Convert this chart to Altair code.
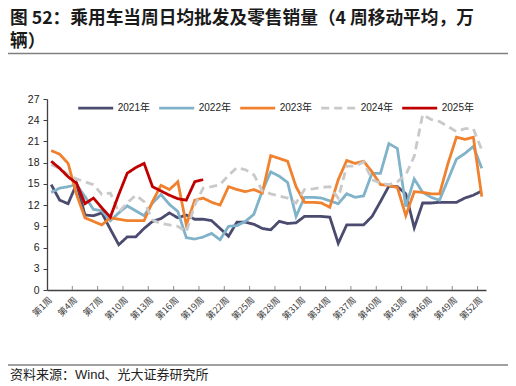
import altair as alt
import pandas as pd

series_names = ["2021年", "2022年", "2023年", "2024年", "2025年"]
series_colors = ["#4b4b70", "#80b2c9", "#f0822f", "#c9c9c9", "#c00000"]
series_dash = [[1, 0], [1, 0], [1, 0], [8, 5], [1, 0]]
series_width = [2.8, 2.8, 2.8, 2.8, 5.0]

y2021 = [14.9, 12.7, 12.2, 15.0, 10.6, 10.5, 10.9, 8.6, 6.4, 7.5, 7.5, 8.7, 9.7,
         10.1, 10.9, 10.2, 10.6, 10.0, 10.0, 9.8, 8.7, 7.6, 9.6, 9.6, 9.3, 8.7,
         8.5, 9.7, 9.4, 9.5, 10.4, 10.4, 10.4, 10.3, 6.6, 9.2, 9.2, 9.2, 10.4,
         12.5, 14.7, 14.6, 13.6, 8.8, 12.3, 12.3, 12.4, 12.4, 12.4, 13.0, 13.4, 14.0]
y2022 = [13.8, 14.4, 14.6, 14.9, 13.2, 11.4, 11.2, 9.8, 10.9, 11.9, 11.2, 10.5, 12.3,
         13.5, 12.1, 11.1, 7.4, 7.2, 7.5, 8.0, 7.1, 9.0, 9.1, 9.7, 10.7, 14.0,
         16.7, 16.1, 15.2, 10.4, 13.1, 13.1, 13.0, 12.6, 12.2, 13.6, 13.1, 13.3, 16.5,
         16.5, 20.7, 20.0, 11.8, 15.7, 13.8, 13.1, 12.7, 15.6, 18.5, 19.3, 20.3, 17.2]
y2023 = [19.7, 19.2, 17.9, 13.5, 10.2, 9.7, 9.2, 10.2, 10.0, 9.8, 9.8, 9.8, 12.5,
         14.8, 14.2, 15.3, 9.2, 12.7, 13.0, 12.4, 12.0, 14.6, 14.2, 13.9, 14.2, 13.7,
         19.0, 18.6, 18.2, 14.6, 12.4, 12.4, 12.3, 11.7, 15.6, 18.3, 17.9, 18.2, 16.7,
         14.9, 14.8, 14.5, 10.5, 13.9, 13.8, 13.6, 13.6, 17.9, 21.6, 21.3, 21.6, 13.2]
y2024 = [17.7, 17.2, 16.3, 15.7, 15.3, 14.9, 13.5, 13.7, 11.0, 12.3, 13.4, 12.5, 9.9,
         9.4, 9.2, 9.0, 8.2, 12.0, 14.4, 14.6, 14.9, 16.2, 17.3, 17.0, 16.3, 14.0,
         13.6, 13.3, 13.0, 12.3, 14.2, 14.3, 14.5, 14.6, 13.0, 17.5, 17.5, 18.1, 15.6,
         15.1, 14.9, 15.3, 16.3, 18.9, 24.8, 24.1, 23.8, 23.1, 22.4, 22.8, 22.8, 19.8]
y2025 = [18.2, 17.2, 16.0, 15.1, 12.2, 13.0, 11.6, 10.3, 13.5, 16.5, 17.3, 17.9, 14.6,
         14.0, 13.4, 12.9, 12.7, 15.3, 15.6]

y_ticks = [0, 3, 6, 9, 12, 15, 18, 21, 24, 27]
week_bounds = [0.5, 3.5, 6.5, 9.5, 12.5, 15.5, 18.5, 21.5, 24.5, 27.5, 30.5,
               33.5, 36.5, 39.5, 42.5, 45.5, 48.5, 51.5]

title_line1 = "图 52：乘用车当周日均批发及零售销量（4 周移动平均，万"
title_line2 = "辆）"
source_text = "资料来源：Wind、光大证券研究所"

records = []
for name, vals in zip(series_names, [y2021, y2022, y2023, y2024, y2025]):
    for i, v in enumerate(vals):
        records.append({"series": name, "week": i + 1, "value": v})
df = pd.DataFrame(records)

FONT = "Liberation Sans, Noto Sans CJK SC"
CJK = "Noto Sans CJK SC"
W, H = 439, 191

xscale = alt.Scale(domain=[0.5, 52.5], nice=False, zero=False)
xaxis = alt.Axis(
    values=week_bounds,
    labelExpr="'第' + (datum.value + 0.5) + '周'",
    labelAngle=-45, labelAlign="right", labelBaseline="middle",
    ticks=False, labelPadding=8, labelOffset=3, labelFontSize=9,
    labelFont=CJK, labelColor="#404040", domainColor="#404040",
    domainWidth=1.3, grid=False, title=None, labelFlush=False,
    labelOverlap=False, labelBound=False)

lines = alt.Chart(df).mark_line().encode(
    x=alt.X("week:Q", scale=xscale, axis=xaxis),
    y=alt.Y("value:Q", scale=alt.Scale(domain=[0, 27], nice=False), axis=alt.Axis(
        values=y_ticks, tickSize=4, labelPadding=4, labelFontSize=10.5,
        labelFont=FONT, labelColor="#222222", domainColor="#404040",
        tickColor="#404040", domainWidth=1.3, grid=False, title=None)),
    color=alt.Color("series:N", scale=alt.Scale(domain=series_names, range=series_colors), title=None),
    strokeDash=alt.StrokeDash("series:N", scale=alt.Scale(domain=series_names, range=series_dash), title=None),
    strokeWidth=alt.StrokeWidth("series:N", scale=alt.Scale(domain=series_names, range=series_width), title=None),
)

ticks = alt.Chart(pd.DataFrame({"week": week_bounds[1:]})).mark_rule(color="#8c8c8c", strokeWidth=1).encode(
    x=alt.X("week:Q", scale=xscale, axis=xaxis),
    y=alt.value(H - 4),
    y2=alt.value(H),
)

one = pd.DataFrame({"k": [0]})
t1 = alt.Chart(one).mark_text(text=title_line1, font=CJK, fontSize=17.7, fontWeight="bold",
                              align="left", baseline="alphabetic", color="#1a1a1a").encode(
    x=alt.value(-37), y=alt.value(-75))
t2 = alt.Chart(one).mark_text(text=title_line2, font=CJK, fontSize=17.7, fontWeight="bold",
                              align="left", baseline="alphabetic", color="#1a1a1a").encode(
    x=alt.value(-37), y=alt.value(-52))
rule_top = alt.Chart(one).mark_rule(color="#808080", strokeWidth=1.4).encode(
    x=alt.value(-39), x2=alt.value(462), y=alt.value(-45.5))
rule_bottom = alt.Chart(one).mark_rule(color="#808080", strokeWidth=1.4).encode(
    x=alt.value(-39), x2=alt.value(462), y=alt.value(266))
src = alt.Chart(one).mark_text(text=source_text, font=FONT, fontSize=13,
                               align="left", baseline="alphabetic", color="#222222").encode(
    x=alt.value(-37), y=alt.value(280))

chart = alt.layer(lines, ticks, t1, t2, rule_top, rule_bottom, src).properties(
    width=W, height=H,
    autosize=alt.AutoSizeParams(type="none"),
    padding={"left": 39, "top": 91, "right": 22, "bottom": 96},
).configure_view(stroke=None).configure_legend(
    orient="none", legendX=29.7, legendY=-10, direction="horizontal", columns=5,
    symbolType="stroke", symbolSize=1225, labelFontSize=10, labelFont=FONT,
    labelColor="#222222", labelOffset=3, columnPadding=2, padding=0,
)

chart.save("out.html", embed_options={"renderer": "svg", "actions": False})
